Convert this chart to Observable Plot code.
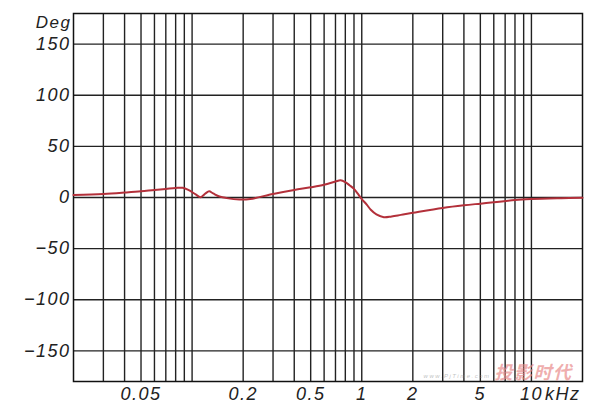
<!DOCTYPE html>
<html>
<head>
<meta charset="utf-8">
<script src="https://cdn.jsdelivr.net/npm/d3@7"></script>
<script src="https://cdn.jsdelivr.net/npm/@observablehq/plot@0.6"></script>
<style>
  html, body { margin: 0; padding: 0; background: #ffffff; }
  #chart text { font-style: italic; letter-spacing: 1.5px; }
</style>
</head>
<body>
<div id="chart"></div>
<script>
// Phase response (degrees) vs frequency (kHz)
const freqKHz = [0.02, 0.03, 0.04, 0.05, 0.06, 0.07, 0.08, 0.088, 0.095, 0.105, 0.112, 0.12, 0.126, 0.133, 0.145, 0.16, 0.19, 0.22, 0.3, 0.4, 0.5, 0.6, 0.7, 0.75, 0.8, 0.85, 0.9, 0.95, 1.0, 1.07, 1.13, 1.22, 1.35, 1.5, 1.7, 2, 3, 4, 5, 6, 8, 10, 15, 20];
const phaseDeg = [2.5, 3.5, 4.8, 6, 7.4, 8.4, 9.3, 9.5, 7.5, 3, 0.3, 4, 6, 4, 1, -0.6, -2, -1.5, 3.5, 7.4, 10, 12.5, 15.6, 16.8, 15.0, 11.8, 8.4, 3.5, -1.5, -7, -12, -16.5, -19.3, -18.5, -17, -15, -10.2, -7.6, -6, -4.7, -2.4, -1.5, -0.7, -0.3];

const gridFreqs = [0.03, 0.04, 0.05, 0.06, 0.07, 0.08, 0.09, 0.1, 0.2, 0.3, 0.4, 0.5, 0.6, 0.7, 0.8, 0.9, 1, 2, 3, 4, 5, 6, 7, 8, 9, 10];
const xTickLabels = [0.05, 0.2, 0.5, 1, 2, 5, 10];
const yTicks = [150, 100, 50, 0, -50, -100, -150];
const yUnit = "Deg";
const xUnit = "kHz";
const watermark = "投影时代";
const watermarkUrl = "www.PjTime.com";

const data = freqKHz.map((f, i) => ({f, deg: phaseDeg[i]}));

const chart = Plot.plot({
  width: 600,
  height: 413,
  marginTop: 13,
  marginLeft: 73,
  marginRight: 18,
  marginBottom: 32,
  style: {fontFamily: "'Liberation Sans', Arial, sans-serif", fontSize: "18px", color: "#222", background: "#ffffff"},
  x: {type: "log", domain: [0.02, 20], axis: null},
  y: {domain: [-180, 180]},
  marks: [
    Plot.ruleX(gridFreqs, {x: d => d, stroke: "#222", strokeWidth: 1.4}),
    Plot.ruleY(yTicks, {y: d => d, stroke: "#222", strokeWidth: 1.4}),
    Plot.frame({stroke: "#111", strokeWidth: 1.5}),
    Plot.text([watermark], {frameAnchor: "bottom-right", text: d => d, dx: -10, dy: -3, fill: "#e88a8a", fillOpacity: 0.7, fontSize: 18, fontWeight: "bold", textAnchor: "end", lineAnchor: "bottom", fontFamily: "'Noto Sans CJK SC', sans-serif"}),
    Plot.text([watermarkUrl], {frameAnchor: "bottom-right", text: d => d, dx: -92, dy: -4, fill: "#999", fillOpacity: 0.6, fontSize: 6, textAnchor: "end", lineAnchor: "bottom"}),
    Plot.line(data, {x: "f", y: "deg", stroke: "#b3303a", strokeWidth: 2, curve: "catmull-rom"}),
    Plot.axisY(yTicks, {tickSize: 0, tickPadding: 3, label: null, tickFormat: d => String(d).replace("-", "\u2212"), fontSize: 18}),
    Plot.text(xTickLabels, {x: d => d, frameAnchor: "bottom", text: d => String(d), dy: 6, lineAnchor: "top", textAnchor: "middle", fontSize: 18}),
    Plot.text([yUnit], {frameAnchor: "top-left", text: d => d, dx: -2, dy: 2, textAnchor: "end", lineAnchor: "top", fontSize: 17}),
    Plot.text([xUnit], {frameAnchor: "bottom-right", text: d => d, dx: -2, dy: 6, textAnchor: "end", lineAnchor: "top", fontSize: 18})
  ]
});
document.getElementById("chart").appendChild(chart);
</script>
</body>
</html>
